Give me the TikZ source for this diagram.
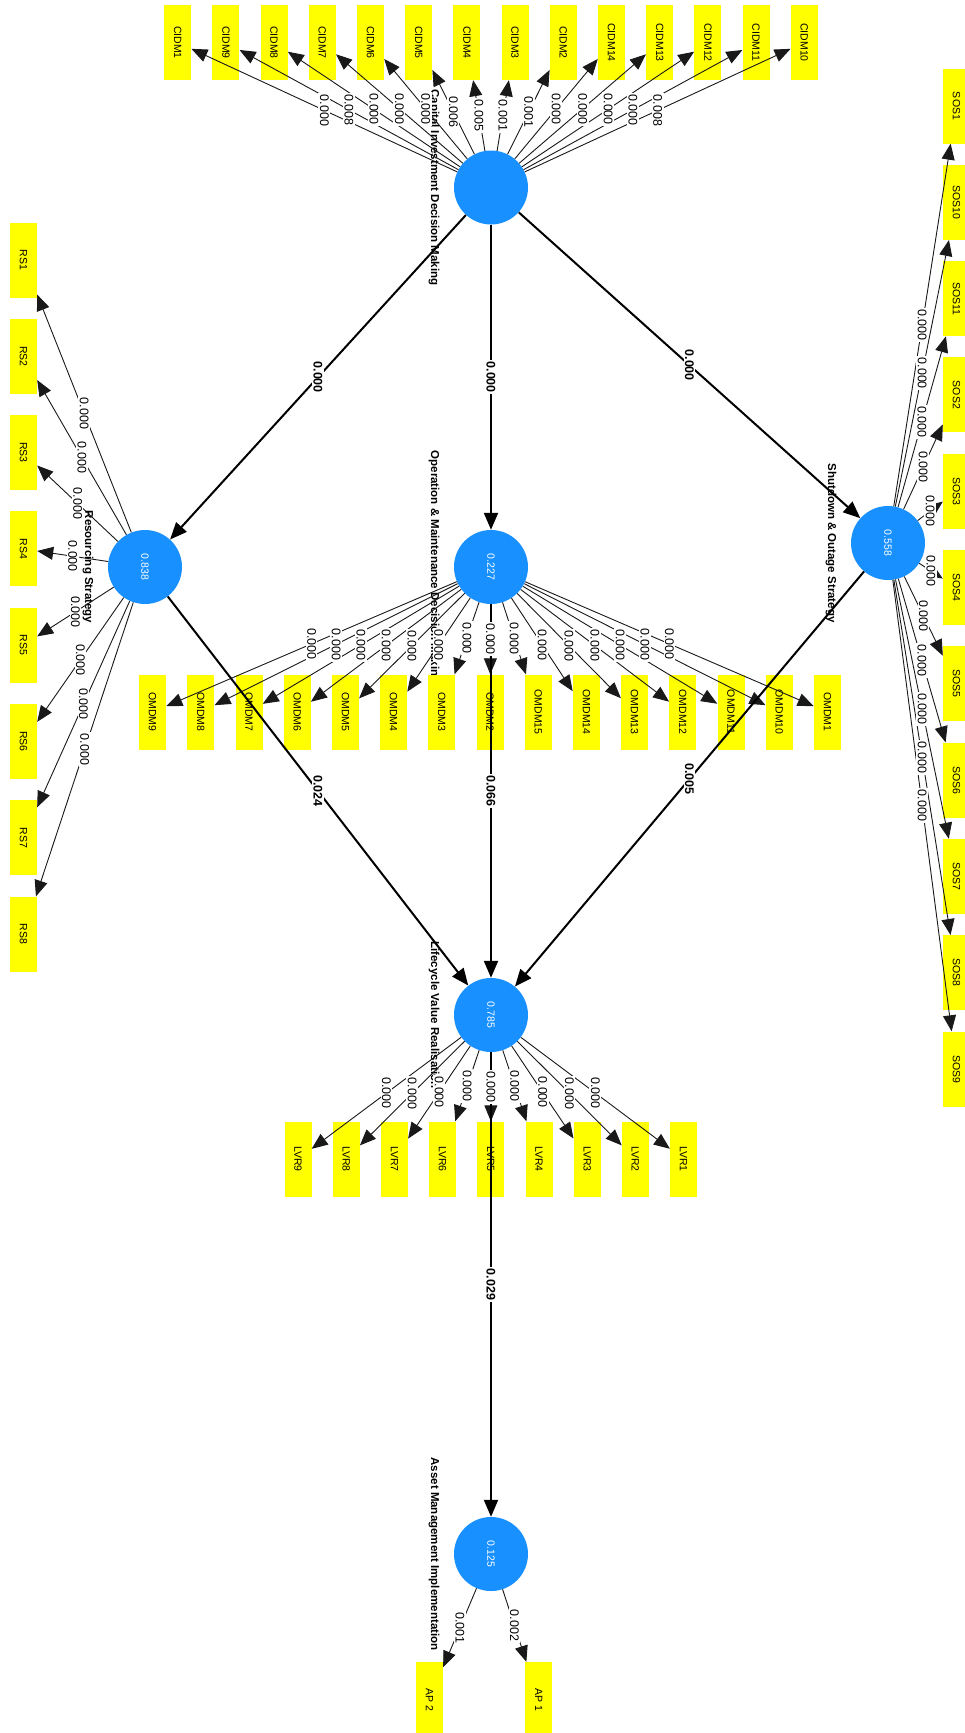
\documentclass[tikz,border=0pt]{standalone}
\usepackage{fontspec}
\setmainfont{Liberation Sans}
\usetikzlibrary{arrows.meta}

\definecolor{lvblue}{RGB}{24,144,255}
\definecolor{indyellow}{RGB}{255,255,0}

% indicator/loading lists
\newcommand{\cidmlist}{CIDM1/0.000,CIDM9/0.008,CIDM8/0.000,CIDM7/0.000,CIDM6/0.000,CIDM5/0.006,CIDM4/0.005,CIDM3/0.001,CIDM2/0.001,CIDM14/0.000,CIDM13/0.000,CIDM12/0.000,CIDM11/0.000,CIDM10/0.008}
\newcommand{\omdmlist}{OMDM9/0.000,OMDM8/0.000,OMDM7/0.000,OMDM6/0.000,OMDM5/0.000,OMDM4/0.000,OMDM3/0.000,OMDM2/0.000,OMDM15/0.000,OMDM14/0.000,OMDM13/0.000,OMDM12/0.000,OMDM11/0.000,OMDM10/0.000,OMDM1/0.000}
\newcommand{\rslist}{RS1/0.000,RS2/0.000,RS3/0.000,RS4/0.000,RS5/0.000,RS6/0.000,RS7/0.000,RS8/0.000}
\newcommand{\soslist}{SOS1/0.000,SOS10/0.000,SOS11/0.000,SOS2/0.000,SOS3/0.000,SOS4/0.000,SOS5/0.000,SOS6/0.000,SOS7/0.000,SOS8/0.000,SOS9/0.000}
\newcommand{\lvrlist}{LVR9/0.000,LVR8/0.000,LVR7/0.000,LVR6/0.000,LVR5/0.000,LVR4/0.000,LVR3/0.000,LVR2/0.000,LVR1/0.000}

\begin{document}
\begin{tikzpicture}[
    x=1pt,y=-1pt,
    latent/.style={circle,fill=lvblue,minimum size=74pt,inner sep=0pt,text=white,rotate=-90,font=\fontsize{10.5}{12}\selectfont},
    ind/.style={fill=indyellow,minimum width=75pt,minimum height=27pt,inner sep=0pt,rotate=-90,font=\fontsize{10.5}{12}\selectfont},
    lvname/.style={rotate=-90,inner sep=0pt,font=\bfseries\fontsize{11.5}{13}\selectfont},
    loading/.style={draw=black!90,line width=0.9pt,-{Triangle[length=16pt,width=13pt]}},
    structural/.style={draw=black,line width=2pt,-{Triangle[length=17pt,width=14pt]}},
    wlabel/.style={fill=white,rotate=-90,inner sep=1.5pt,font=\fontsize{12.5}{14}\selectfont},
    blabel/.style={fill=white,rotate=-90,inner sep=1.5pt,font=\bfseries\fontsize{12.5}{14}\selectfont}
  ]
    \useasboundingbox (0,0) rectangle (965,1733);

    % latent variables
    \node[latent] (cid) at (491,187.5) {};
    \node[latent] (omdm) at (491,567) {0.227};
    \node[latent] (rs) at (145,567) {0.838};
    \node[latent] (sos) at (888,543) {0.558};
    \node[latent] (lvr) at (491,1015) {0.785};
    \node[latent] (ami) at (491,1554) {0.125};

    \node[lvname] (cidname) at ([xshift=-57pt]cid) {Capital Investment Decision Making};
    \node[lvname] (omdmname) at ([xshift=-57pt]omdm) {Operation \& Maintenance Decision Making};
    \node[lvname] (rsname) at ([xshift=-57pt]rs) {Resourcing Strategy};
    \node[lvname] (sosname) at ([xshift=-57pt]sos) {Shutdown \& Outage Strategy};
    \node[lvname] (lvrname) at ([xshift=-57pt]lvr) {Lifecycle Value Realisation};
    \node[lvname] (aminame) at ([xshift=-57pt]ami) {Asset Management Implementation};

    % indicators
    \foreach \n/\v [count=\i from 0] in \cidmlist
      \node[ind] (\n) at ({177.7+48.2*\i},42.5) {\n};
    \foreach \n/\v [count=\i from 0] in \omdmlist
      \node[ind] (\n) at ({152.6+48.2*\i},712) {\n};
    \foreach \n/\v [count=\i from 0] in \rslist
      \node[ind] (\n) at (23.5,{260+96.3*\i}) {\n};
    \foreach \n/\v [count=\i from 0] in \soslist
      \node[ind] (\n) at (956.5,{106+96.3*\i}) {\n};
    \foreach \n/\v [count=\i from 0] in \lvrlist
      \node[ind] (\n) at ({298+48.2*\i},1159) {\n};
    \node[ind] (ap2) at (429.5,1699.5) {AP 2};
    \node[ind] (ap1) at (538.7,1699.5) {AP 1};

    % outer model
    \foreach \n/\v in \cidmlist \draw[loading] (cid) -- (\n);
    \foreach \n/\v in \omdmlist \draw[loading] (omdm) -- (\n);
    \foreach \n/\v in \rslist \draw[loading] (rs) -- (\n);
    \foreach \n/\v in \soslist \draw[loading] (sos) -- (\n);
    \foreach \n/\v in \lvrlist \draw[loading] (lvr) -- (\n);
    \draw[loading] (ami) -- (ap2);
    \draw[loading] (ami) -- (ap1);

    % inner model
    \draw[structural] (cid) -- (rs);
    \draw[structural] (cid) -- (omdm);
    \draw[structural] (cid) -- (sos);
    \draw[structural] (rs) -- (lvr);
    \draw[structural] (omdm) -- (lvr);
    \draw[structural] (sos) -- (lvr);
    \draw[structural] (lvr) -- (ami);

    % p values
    \foreach \n/\v in \cidmlist \path (cid) -- (\n) node[wlabel,midway] {\v};
    \foreach \n/\v in \omdmlist \path (omdm) -- (\n) node[wlabel,midway] {\v};
    \foreach \n/\v in \rslist \path (rs) -- (\n) node[wlabel,midway] {\v};
    \foreach \n/\v in \soslist \path (sos) -- (\n) node[wlabel,midway] {\v};
    \foreach \n/\v in \lvrlist \path (lvr) -- (\n) node[wlabel,midway] {\v};
    \path (ami) -- (ap2) node[wlabel,midway] {0.001};
    \path (ami) -- (ap1) node[wlabel,midway] {0.002};

    \path (cid) -- (rs) node[blabel,midway] {0.000};
    \path (cid) -- (omdm) node[blabel,midway] {0.000};
    \path (cid) -- (sos) node[blabel,midway] {0.000};
    \path (rs) -- (lvr) node[blabel,midway] {0.024};
    \path (omdm) -- (lvr) node[blabel,midway] {0.066};
    \path (sos) -- (lvr) node[blabel,midway] {0.005};
    \path (lvr) -- (ami) node[blabel,midway] {0.029};
  \end{tikzpicture}
\end{document}
